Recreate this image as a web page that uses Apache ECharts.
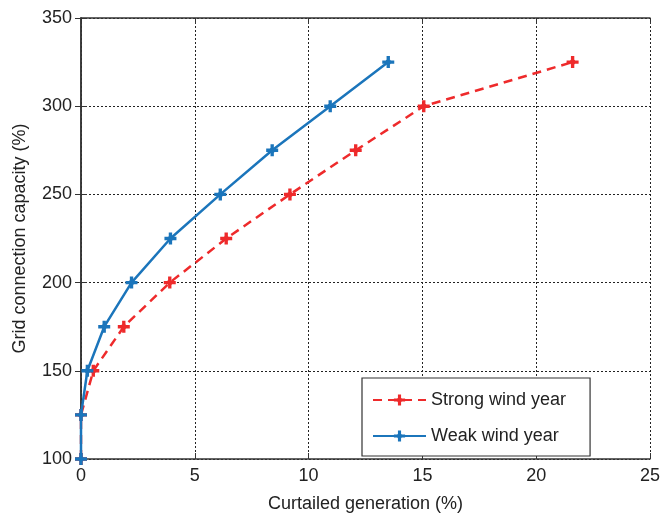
<!DOCTYPE html>
<html>
<head>
<meta charset="utf-8">
<script src="https://cdn.jsdelivr.net/npm/echarts@6/dist/echarts.min.js"></script>
<style>
html,body{margin:0;padding:0;background:#fff;}
#chart{width:663px;height:518px;}
</style>
</head>
<body>
<div id="chart"></div>
<script>
const capacity = [100, 125, 150, 175, 200, 225, 250, 275, 300, 325];
const strongCurtailed = [0, 0, 0.54, 1.88, 3.9, 6.38, 9.18, 12.07, 15.06, 21.6];
const weakCurtailed = [0, 0, 0.28, 1.02, 2.22, 3.93, 6.12, 8.4, 10.95, 13.5];
const seriesNames = ['Strong wind year', 'Weak wind year'];
const xTitle = 'Curtailed generation (%)';
const yTitle = 'Grid connection capacity (%)';

const RED = '#ee2a2b';
const BLUE = '#1b75bb';
const FONT = 'Liberation Sans, Arial, sans-serif';
const plus = 'path://M3.6,0 L6.4,0 L6.4,3.6 L10,3.6 L10,6.4 L6.4,6.4 L6.4,10 L3.6,10 L3.6,6.4 L0,6.4 L0,3.6 L3.6,3.6 Z M5,1.6 L8.4,5 L5,8.4 L1.6,5 Z';

const chart = echarts.init(document.getElementById('chart'));
const axisLine = {show: true, lineStyle: {color: '#333', width: 1.5}};
const tick = {show: true, inside: true, length: 6, lineStyle: {color: '#333', width: 1}};
const split = {show: true, lineStyle: {color: '#222', type: [2, 2], width: 1}};
const label = {color: '#222', fontSize: 18, fontFamily: FONT};

chart.setOption({
  animation: false,
  backgroundColor: '#fff',
  grid: {left: 81, right: 11, top: 18, bottom: 55, containLabel: false},
  legend: {
    orient: 'vertical',
    left: 362, top: 378,
    data: seriesNames,
    itemWidth: 53, itemHeight: 14, itemGap: 18,
    padding: [13, 24, 11, 10],
    borderColor: '#333', borderWidth: 1.2,
    backgroundColor: '#fff',
    textStyle: {color: '#222', fontSize: 18, fontFamily: FONT}
  },
  xAxis: [
    {type: 'value', min: 0, max: 25, interval: 5, position: 'bottom',
     name: xTitle, nameLocation: 'middle', nameGap: 36,
     nameTextStyle: {color: '#222', fontSize: 18, fontFamily: FONT},
     axisLine: axisLine, axisTick: tick, splitLine: split,
     axisLabel: Object.assign({margin: 8}, label)},
    {type: 'value', min: 0, max: 25, interval: 5, position: 'top',
     axisLine: axisLine, axisTick: tick, splitLine: {show: false}, axisLabel: {show: false}}
  ],
  yAxis: [
    {type: 'value', min: 100, max: 350, interval: 50, position: 'left',
     name: yTitle, nameLocation: 'middle', nameGap: 52,
     nameTextStyle: {color: '#222', fontSize: 18, fontFamily: FONT},
     axisLine: axisLine, axisTick: tick, splitLine: split,
     axisLabel: Object.assign({margin: 9}, label)},
    {type: 'value', min: 100, max: 350, interval: 50, position: 'right',
     axisLine: axisLine, axisTick: tick, splitLine: {show: false}, axisLabel: {show: false}}
  ],
  series: [
    {name: seriesNames[0], type: 'line', xAxisIndex: 0, yAxisIndex: 0,
     data: strongCurtailed.map((x, i) => [x, capacity[i]]),
     symbol: plus, symbolSize: 12, showSymbol: true,
     lineStyle: {color: RED, width: 2.5, type: [9, 6]},
     itemStyle: {color: RED}, z: 2},
    {name: seriesNames[1], type: 'line', xAxisIndex: 0, yAxisIndex: 0,
     data: weakCurtailed.map((x, i) => [x, capacity[i]]),
     symbol: plus, symbolSize: 12, showSymbol: true,
     lineStyle: {color: BLUE, width: 2.5},
     itemStyle: {color: BLUE}, z: 3}
  ]
});
</script>
</body>
</html>
